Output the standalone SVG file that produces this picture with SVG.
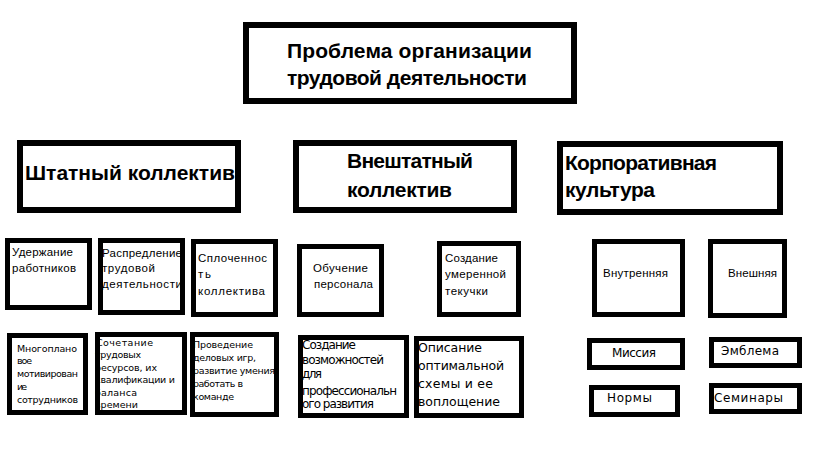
<svg xmlns="http://www.w3.org/2000/svg" width="819" height="460" viewBox="0 0 819 460">
<style>
.b6{fill:#fff;stroke:#000;stroke-width:6}
.b5{fill:#fff;stroke:#000;stroke-width:5}
.f5{fill:none;stroke:#000;stroke-width:5}
.h{font-family:"Liberation Sans",Arial,sans-serif;font-weight:bold;font-size:21px;fill:#000}
.m{font-family:"Liberation Sans",Arial,sans-serif;font-size:11.5px;fill:#000}
.s{font-family:"DejaVu Sans",Verdana,sans-serif;font-size:9.5px;fill:#000}
.s2{font-family:"DejaVu Sans",Verdana,sans-serif;font-size:12px;fill:#000}
.s3{font-family:"DejaVu Sans",Verdana,sans-serif;font-size:12.5px;fill:#000}
</style>
<rect width="819" height="460" fill="#fff"/>
<g id="connectors"/>
<g id="root">
<rect class="b6" x="246" y="25" width="328" height="76"/>
<text class="h" x="287" y="58" textLength="245">Проблема организации</text>
<text class="h" x="287" y="85" textLength="240">трудовой деятельности</text>
</g>
<g id="staff">
<rect class="b6" x="20" y="143" width="218" height="67"/>
<text class="h" x="25" y="180" textLength="210">Штатный коллектив</text>
</g>
<g id="freelance">
<rect class="b6" x="296" y="143" width="218" height="67"/>
<text class="h" x="347" y="168" textLength="126">Внештатный</text>
<text class="h" x="347" y="197" textLength="105">коллектив</text>
</g>
<g id="culture">
<rect class="b6" x="560" y="144" width="220" height="68"/>
<text class="h" x="565" y="170" textLength="152">Корпоративная</text>
<text class="h" x="565" y="197" textLength="90">культура</text>
</g>
<g id="retain">
<rect class="b5" x="7.5" y="240.5" width="82" height="67"/>
<text class="m" x="12" y="256" textLength="61">Удержание</text>
<text class="m" x="12" y="272" textLength="64">работников</text>
</g>
<g id="distribute">
<rect class="b5" x="100.5" y="240.5" width="82" height="72"/>
<text class="m" x="102" y="257" textLength="80">Распредление</text>
<text class="m" x="102" y="272" textLength="53">трудовой</text>
<text class="m" x="102" y="288" textLength="80">деятельности</text>
<rect class="f5" x="100.5" y="240.5" width="82" height="72"/>
</g>
<g id="cohesion">
<rect class="b5" x="193.5" y="241.5" width="82" height="73"/>
<text class="m" x="198" y="262" textLength="69">Сплоченнос</text>
<text class="m" x="198" y="278" textLength="13">ть</text>
<text class="m" x="198" y="295" textLength="67">коллектива</text>
</g>
<g id="training">
<rect class="b5" x="299.5" y="246.5" width="82" height="68"/>
<text class="m" x="313" y="272" textLength="55">Обучение</text>
<text class="m" x="314" y="288" textLength="59">персонала</text>
</g>
<g id="turnover">
<rect class="b5" x="439.5" y="243.5" width="79" height="71"/>
<text class="m" x="445" y="262" textLength="53">Создание</text>
<text class="m" x="445" y="278" textLength="61">умеренной</text>
<text class="m" x="445" y="295" textLength="43">текучки</text>
</g>
<g id="internal">
<rect class="b5" x="594.5" y="241.5" width="88" height="73"/>
<text class="m" x="603" y="277" textLength="65">Внутренняя</text>
</g>
<g id="external">
<rect class="b5" x="710.5" y="241.5" width="74" height="74"/>
<text class="m" x="728" y="277" textLength="49">Внешняя</text>
</g>
<g id="motivation">
<rect class="b5" x="9.5" y="335.5" width="76" height="77"/>
<text class="s" x="17" y="352" textLength="60">Многоплано</text>
<text class="s" x="17" y="364" textLength="15">вое</text>
<text class="s" x="17" y="377" textLength="61">мотивирован</text>
<text class="s" x="17" y="390" textLength="10">ие</text>
<text class="s" x="17" y="403" textLength="61">сотрудников</text>
</g>
<g id="combination">
<rect class="b5" x="97.5" y="334.5" width="87" height="78"/>
<text class="s" x="96" y="346" textLength="57">Сочетание</text>
<text class="s" x="95" y="358" textLength="46">трудовых</text>
<text class="s" x="95" y="371" textLength="62">ресурсов, их</text>
<text class="s" x="95" y="383" textLength="80">квалификации и</text>
<text class="s" x="95" y="396" textLength="42">баланса</text>
<text class="s" x="95" y="408" textLength="43">времени</text>
<rect class="f5" x="97.5" y="334.5" width="87" height="78"/>
</g>
<g id="games">
<rect class="b5" x="192.5" y="334.5" width="84" height="80"/>
<text class="s" x="193" y="348" textLength="60">Проведение</text>
<text class="s" x="193" y="361" textLength="63">деловых игр,</text>
<text class="s" x="193" y="374" textLength="82">развитие умения</text>
<text class="s" x="193" y="387" textLength="50">работать в</text>
<text class="s" x="193" y="400" textLength="41">команде</text>
<rect class="f5" x="192.5" y="334.5" width="84" height="80"/>
</g>
<g id="development">
<rect class="b5" x="300.5" y="337.5" width="106" height="78"/>
<text class="s2" x="302" y="349" textLength="54">Создание</text>
<text class="s2" x="302" y="364" textLength="82">возможностей</text>
<text class="s2" x="302" y="378" textLength="20">для</text>
<text class="s2" x="302" y="395" textLength="95">профессиональн</text>
<text class="s2" x="302" y="408" textLength="72">ого развития</text>
<rect class="f5" x="300.5" y="337.5" width="106" height="78"/>
</g>
<g id="scheme">
<rect class="b5" x="416.5" y="338.5" width="105" height="77"/>
<text class="s3" x="418" y="352" textLength="64">Описание</text>
<text class="s3" x="418" y="370" textLength="86">оптимальной</text>
<text class="s3" x="418" y="388" textLength="75">схемы и ее</text>
<text class="s3" x="418" y="406" textLength="82">воплощение</text>
<rect class="f5" x="416.5" y="338.5" width="105" height="77"/>
</g>
<g id="mission">
<rect class="b5" x="589.5" y="340.5" width="93" height="27"/>
<text class="s2" x="612" y="357" textLength="44">Миссия</text>
</g>
<g id="emblem">
<rect class="b5" x="711.5" y="339.5" width="88" height="26"/>
<text class="s2" x="721" y="355" textLength="58">Эмблема</text>
</g>
<g id="norms">
<rect class="b5" x="591.5" y="387.5" width="86" height="27"/>
<text class="s2" x="607" y="402" textLength="45">Нормы</text>
</g>
<g id="seminars">
<rect class="b5" x="711.5" y="385.5" width="88" height="26"/>
<text class="s2" x="714" y="402" textLength="69">Семинары</text>
</g>
</svg>
